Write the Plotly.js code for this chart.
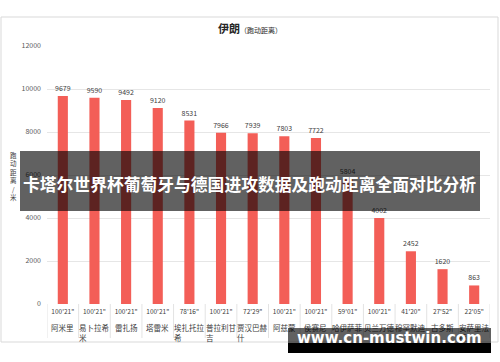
<!DOCTYPE html>
<html>
<head>
<meta charset="utf-8">
<script src="https://cdn.plot.ly/plotly-3.0.1.min.js"></script>
<style>html,body{margin:0;padding:0;background:#fff;}#chart{width:500px;height:362px;}</style>
</head>
<body>
<div id="chart"></div>
<script>
const names = ["阿米里","易卜拉希米","雷扎扬","塔雷米","埃扎托拉希","普拉利甘吉","贾汉巴赫什","阿兹蒙","侯赛尼","哈伊萨菲","贝兰万德","穆罕默迪","古多斯","安萨里法德"];
const times = ["100'21\"","100'21\"","100'21\"","100'21\"","78'16\"","100'21\"","72'29\"","100'21\"","100'21\"","59'01\"","100'21\"","41'20\"","27'52\"","22'05\""];
const distances = [9679,9590,9492,9120,8531,7966,7939,7803,7722,5804,4002,2452,1620,863];
const yTicks = [0,2000,4000,6000,8000,10000,12000];
const chartTitle = "伊朗";
const chartSubtitle = "（跑动距离）";
const yTitle = "跑动距离/米";
const bannerText = "卡塔尔世界杯葡萄牙与德国进攻数据及跑动距离全面对比分析";
const siteText = "www.cn-mustwin.com";

// plot area in pixels
const L = 47, R = 490, T = 46, B = 304, W = 500, H = 362;
const px = x => (x - L) / (R - L);
const py = y => (B - y) / (B - T);
const wrap = s => s.match(/.{1,4}/g).join("<br>");

const FONT = "Noto Sans CJK SC, sans-serif";

const trace = {
  type: "bar",
  x: names,
  y: distances,
  marker: {color: "#F35E57"},
  text: distances.map(String),
  textposition: "outside",
  textfont: {size: 7, color: "#404040", family: FONT},
  constraintext: "none",
  cliponaxis: false,
  hoverinfo: "skip"
};

const shapes = [];
// outer chart frame
shapes.push({type: "rect", xref: "paper", yref: "paper", x0: px(1), x1: px(498), y0: py(17), y1: py(342),
  line: {color: "#d9d9d9", width: 1}, fillcolor: "rgba(0,0,0,0)", layer: "below"});
// category separators of the label table
for (let i = 0; i <= names.length; i++) {
  shapes.push({type: "line", xref: "x", yref: "paper", x0: i - 0.5, x1: i - 0.5, y0: py(304), y1: py(338),
    line: {color: "#e3e3e3", width: 1}, layer: "below"});
}

const annotations = [];
names.forEach(n => {
  annotations.push({xref: "x", yref: "paper", x: n, y: py(320), xanchor: "center", yanchor: "top",
    align: "left", text: wrap(n), showarrow: false, font: {size: 7.5, color: "#404040", family: FONT}});
});
// stacked y-axis title
annotations.push({xref: "paper", yref: "paper", x: px(13), y: py(176), xanchor: "center", yanchor: "middle",
  text: yTitle.split("").join("<br>"), showarrow: false, font: {size: 6.5, color: "#404040", family: FONT}});
// overlay banners
annotations.push({xref: "paper", yref: "paper", x: px(250), y: py(181), xanchor: "center", yanchor: "middle",
  width: 460, height: 60, borderpad: 0, borderwidth: 0, bgcolor: "rgba(0,0,0,0.62)", text: " ", showarrow: false});
annotations.push({xref: "paper", yref: "paper", x: px(249), y: py(184), xanchor: "center", yanchor: "middle",
  text: "<b>" + bannerText + "</b>", showarrow: false, font: {size: 16.8, color: "#ffffff", family: FONT}});
annotations.push({xref: "paper", yref: "paper", x: px(389.5), y: py(348), xanchor: "center", yanchor: "middle",
  width: 203, height: 10, borderpad: 0, borderwidth: 0, bgcolor: "#000000", text: " ", showarrow: false, font: {size: 6}});
annotations.push({xref: "paper", yref: "paper", x: px(389.5), y: py(335.5), xanchor: "center", yanchor: "middle",
  width: 203, height: 15, borderpad: 0, borderwidth: 0, bgcolor: "rgba(0,0,0,0.62)", text: " ", showarrow: false, font: {size: 6}});
annotations.push({xref: "paper", yref: "paper", x: px(389.5), y: py(337.5), xanchor: "center", yanchor: "middle",
  text: "<b>" + siteText + "</b>", showarrow: false, font: {size: 15, color: "#ffffff", family: "DejaVu Sans, sans-serif"}});

const layout = {
  width: W, height: H,
  margin: {l: L, r: W - R, t: T, b: H - B, pad: 0},
  paper_bgcolor: "#ffffff", plot_bgcolor: "#ffffff",
  font: {family: FONT, color: "#595959"},
  showlegend: false,
  bargap: 0.68,
  title: {
    text: "<b>" + chartTitle + "</b><span style='font-size:7px'>" + chartSubtitle + "</span>",
    font: {size: 11, color: "#262626", family: FONT},
    x: 0.5, xref: "container", xanchor: "center",
    y: 1 - 29.5 / H, yref: "container", yanchor: "middle"
  },
  xaxis: {
    type: "category",
    tickmode: "array", tickvals: names, ticktext: times,
    tickangle: 0, tickfont: {size: 6.5, color: "#404040", family: FONT},
    showgrid: false, zeroline: false, showline: false, ticks: "",
    ticklabelstandoff: 2,
    range: [-0.5, names.length - 0.5]
  },
  yaxis: {
    range: [0, 12000], tickmode: "array", tickvals: yTicks, tickformat: "d",
    tickfont: {size: 7, color: "#595959", family: FONT},
    gridcolor: "#e6e6e6", gridwidth: 1, zeroline: false, showline: false, ticks: "",
    ticklabelstandoff: 5
  },
  shapes: shapes,
  annotations: annotations
};

Plotly.newPlot("chart", [trace], layout, {staticPlot: true, displayModeBar: false});
</script>
</body>
</html>
